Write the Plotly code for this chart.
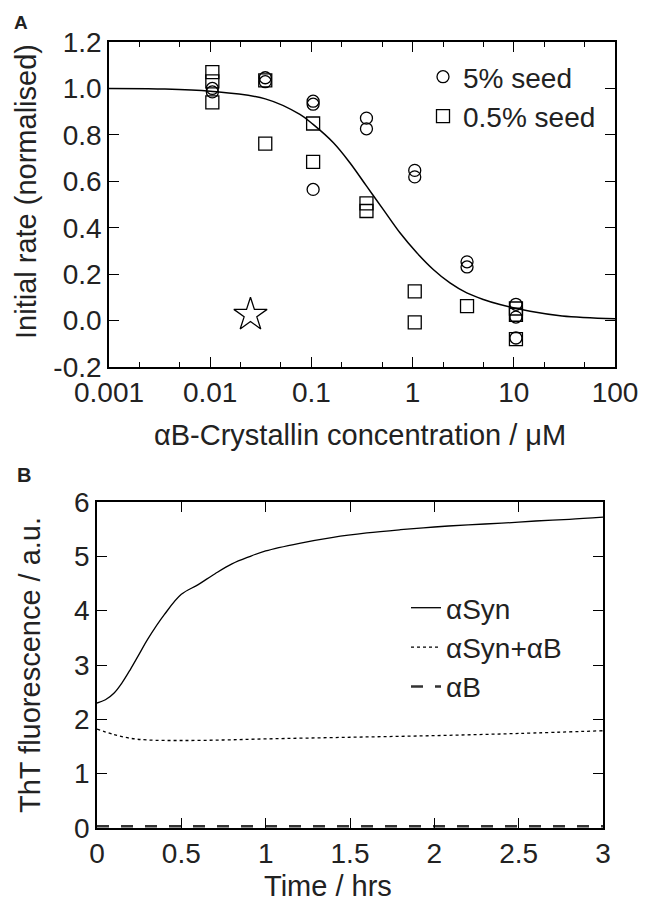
import plotly.graph_objects as go

# ---------------- Panel A data ----------------
seed5_x = [0.0105, 0.0105, 0.035, 0.035, 0.104, 0.104, 0.104, 0.35, 0.35,
           1.05, 1.05, 3.45, 3.45, 10.5, 10.5, 10.5]
seed5_y = [0.985, 1.00, 1.046, 1.029, 0.945, 0.932, 0.565, 0.872, 0.826,
           0.647, 0.619, 0.253, 0.231, 0.070, 0.015, -0.075]

seed05_x = [0.0105, 0.0105, 0.0105, 0.035, 0.035, 0.104, 0.104, 0.35, 0.35,
            1.05, 1.05, 3.45, 10.5, 10.5, 10.5]
seed05_y = [1.070, 1.030, 0.940, 1.035, 0.762, 0.849, 0.684, 0.505, 0.472,
            0.126, -0.008, 0.062, 0.052, 0.025, -0.080]

star_x = [0.025]
star_y = [0.025]

fit_x = [0.001, 0.003, 0.01, 0.035, 0.077, 0.104, 0.165, 0.24, 0.351, 0.514,
         0.75, 1.1, 1.6, 2.34, 3.43, 5.0, 7.3, 14.5, 30, 100]
fit_y = [1.000, 0.998, 0.988, 0.955, 0.888, 0.845, 0.766, 0.680, 0.579, 0.478,
         0.378, 0.292, 0.220, 0.162, 0.119, 0.091, 0.069, 0.040, 0.020, 0.008]

a_xticks = [0.001, 0.01, 0.1, 1, 10, 100]
a_xticktext = ["0.001", "0.01", "0.1", "1", "10", "100"]
a_xminor = [m * d for d in [0.001, 0.01, 0.1, 1, 10] for m in (2, 5)]
a_yticks = [-0.2, 0.0, 0.2, 0.4, 0.6, 0.8, 1.0, 1.2]
a_yticktext = ["-0.2", "0.0", "0.2", "0.4", "0.6", "0.8", "1.0", "1.2"]

# ---------------- Panel B data ----------------
t_syn = [0, 0.05, 0.1, 0.15, 0.2, 0.25, 0.3, 0.4, 0.5, 0.6, 0.7, 0.8, 0.9, 1.0,
         1.2, 1.4, 1.6, 1.8, 2.0, 2.2, 2.4, 2.6, 2.8, 3.0]
syn = [2.30, 2.36, 2.48, 2.68, 2.93, 3.20, 3.47, 3.93, 4.30, 4.48, 4.68, 4.86,
       4.99, 5.10, 5.24, 5.35, 5.43, 5.49, 5.54, 5.58, 5.61, 5.65, 5.68, 5.72]

t_synab = [0, 0.1, 0.2, 0.3, 0.5, 0.75, 1.0, 1.5, 2.0, 2.5, 3.0]
synab = [1.82, 1.72, 1.65, 1.62, 1.61, 1.62, 1.64, 1.67, 1.70, 1.74, 1.79]

t_ab = [0, 0.5, 1.0, 1.5, 2.0, 2.5, 3.0]
ab = [0.03, 0.03, 0.03, 0.03, 0.03, 0.03, 0.03]

b_xticks = [0, 0.5, 1, 1.5, 2, 2.5, 3]
b_xticktext = ["0", "0.5", "1", "1.5", "2", "2.5", "3"]
b_yticks = [0, 1, 2, 3, 4, 5, 6]

FONT = "Liberation Sans, Arial, sans-serif"
FS = 28      # tick labels / legend
FT = 29      # axis titles
TXT = "#222222"
W, H = 646, 903


def px_x(p):
    return p / W


def px_y(p):
    return 1 - p / H


fig = go.Figure()

# Panel A
fig.add_trace(go.Scatter(x=fit_x, y=fit_y, mode="lines",
                         line=dict(color="black", width=1.5, shape="spline"),
                         showlegend=False, xaxis="x", yaxis="y"))
fig.add_trace(go.Scatter(x=seed5_x, y=seed5_y, mode="markers", name="5% seed",
                         marker=dict(symbol="circle-open", size=12, color="black", line=dict(width=1.3)),
                         xaxis="x", yaxis="y", legend="legend"))
fig.add_trace(go.Scatter(x=seed05_x, y=seed05_y, mode="markers", name="0.5% seed",
                         marker=dict(symbol="square-open", size=13, color="black", line=dict(width=1.3)),
                         xaxis="x", yaxis="y", legend="legend"))
fig.add_trace(go.Scatter(x=star_x, y=star_y, mode="markers", showlegend=False,
                         marker=dict(symbol="star-open", size=25, color="black", line=dict(width=1.3)),
                         xaxis="x", yaxis="y"))

# Panel B
fig.add_trace(go.Scatter(x=t_syn, y=syn, mode="lines", name="\u03b1Syn",
                         line=dict(color="black", width=1.3, shape="spline"),
                         xaxis="x2", yaxis="y2", legend="legend2"))
fig.add_trace(go.Scatter(x=t_synab, y=synab, mode="lines", name="\u03b1Syn+\u03b1B",
                         line=dict(color="black", width=1.3, dash="dot", shape="spline"),
                         xaxis="x2", yaxis="y2", legend="legend2"))
fig.add_trace(go.Scatter(x=t_ab, y=ab, mode="lines", name="\u03b1B",
                         line=dict(color="#333333", width=2.5, dash="12px,12px"),
                         xaxis="x2", yaxis="y2", legend="legend2"))

axis_common = dict(showline=True, linecolor="black", linewidth=1.6, mirror="allticks",
                   ticks="inside", tickcolor="black", tickwidth=1.2, ticklen=10,
                   showgrid=False, zeroline=False, automargin=False,
                   tickfont=dict(family=FONT, size=FS, color=TXT))

fig.update_layout(
    width=W, height=H,
    margin=dict(l=0, r=0, t=0, b=0, autoexpand=False),
    paper_bgcolor="white", plot_bgcolor="white",
    font=dict(family=FONT, size=FS, color=TXT),
    xaxis=dict(type="log", range=[-3, 2], domain=[px_x(109), px_x(615)], anchor="y",
               tickmode="array", tickvals=a_xticks, ticktext=a_xticktext,
               minor=dict(tickmode="array", tickvals=a_xminor, ticks="inside", ticklen=5,
                          tickcolor="black", tickwidth=1.2),
               **axis_common),
    yaxis=dict(range=[-0.2, 1.2], domain=[px_y(367), px_y(42)], anchor="x",
               tickmode="array", tickvals=a_yticks, ticktext=a_yticktext, **axis_common),
    xaxis2=dict(range=[0, 3], domain=[px_x(97), px_x(603)], anchor="y2",
                tickmode="array", tickvals=b_xticks, ticktext=b_xticktext, **axis_common),
    yaxis2=dict(range=[0, 6], domain=[px_y(828), px_y(502)], anchor="x2",
                tickmode="array", tickvals=b_yticks, **axis_common),
    legend=dict(x=px_x(423), y=px_y(52), xanchor="left", yanchor="top",
                bgcolor="rgba(0,0,0,0)", font=dict(family=FONT, size=FS, color=TXT),
                itemwidth=30, tracegroupgap=0),
    legend2=dict(x=px_x(406), y=px_y(583), xanchor="left", yanchor="top",
                 bgcolor="rgba(0,0,0,0)", font=dict(family=FONT, size=FS, color=TXT),
                 itemwidth=30, tracegroupgap=0),
    annotations=[
        dict(text="<b>A</b>", x=px_x(21), y=px_y(22), xref="paper", yref="paper",
             xanchor="center", yanchor="middle", showarrow=False,
             font=dict(family=FONT, size=19, color=TXT)),
        dict(text="<b>B</b>", x=px_x(24), y=px_y(475), xref="paper", yref="paper",
             xanchor="center", yanchor="middle", showarrow=False,
             font=dict(family=FONT, size=20, color=TXT)),
        dict(text="\u03b1B-Crystallin concentration / \u03bcM", x=px_x(360), y=px_y(435),
             xref="paper", yref="paper", xanchor="center", yanchor="middle", showarrow=False,
             font=dict(family=FONT, size=FT, color=TXT)),
        dict(text="Initial rate (normalised)", x=px_x(26), y=px_y(192), xref="paper", yref="paper",
             xanchor="center", yanchor="middle", textangle=-90, showarrow=False,
             font=dict(family=FONT, size=FT, color=TXT)),
        dict(text="Time / hrs", x=px_x(328), y=px_y(886), xref="paper", yref="paper",
             xanchor="center", yanchor="middle", showarrow=False,
             font=dict(family=FONT, size=FT, color=TXT)),
        dict(text="ThT fluorescence / a.u.", x=px_x(30), y=px_y(665), xref="paper", yref="paper",
             xanchor="center", yanchor="middle", textangle=-90, showarrow=False,
             font=dict(family=FONT, size=FT, color=TXT)),
    ],
)

fig.write_html("out.html")
